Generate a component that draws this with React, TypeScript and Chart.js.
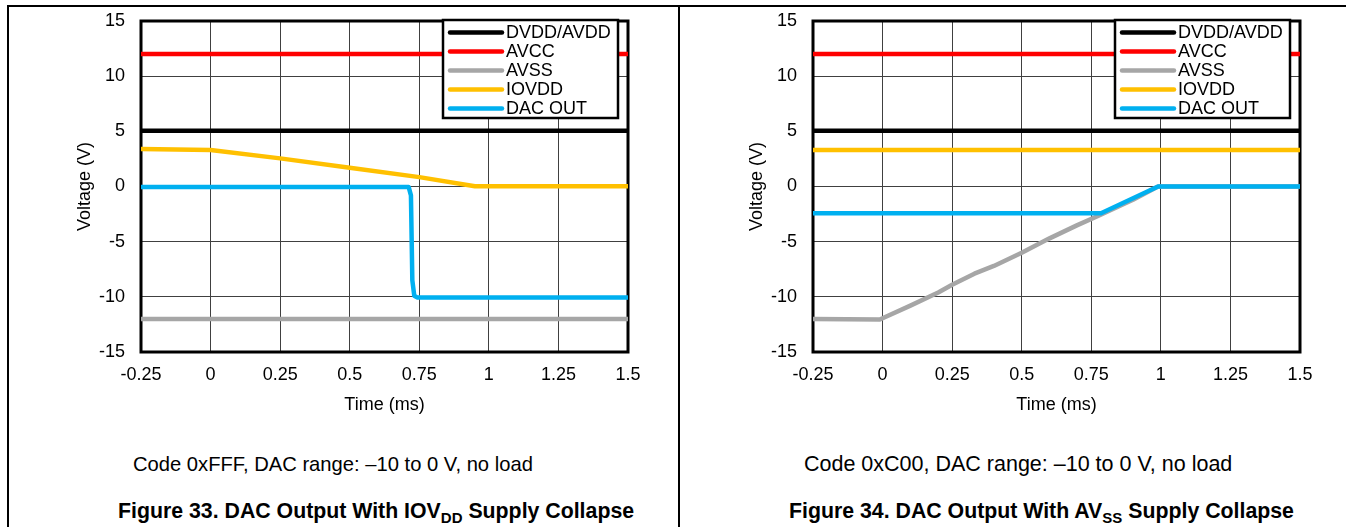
import React, { useEffect, useRef } from "react";
import { Chart, registerables } from "chart.js";

Chart.register(...registerables);

// ---- axes ----
const X_MIN = -0.25;
const X_MAX = 1.5;
const X_STEP = 0.25;
const Y_MIN = -15;
const Y_MAX = 15;
const Y_STEP = 5;
const X_TITLE = "Time (ms)";
const Y_TITLE = "Voltage (V)";

// ---- series ----
const SERIES_NAMES = ["DVDD/AVDD", "AVCC", "AVSS", "IOVDD", "DAC OUT"];
const SERIES_COLORS = ["#000000", "#FF0000", "#A6A6A6", "#FFC000", "#00B0F0"];

// Figure 33 (IOVDD collapse)
const F33_DVDD_T = [-0.25, 1.5];
const F33_DVDD_V = [5.05, 5.05];
const F33_AVCC_T = [-0.25, 1.5];
const F33_AVCC_V = [12, 12];
const F33_AVSS_T = [-0.25, 1.5];
const F33_AVSS_V = [-12, -12];
const F33_IOVDD_T = [-0.25, 0, 0.25, 0.5, 0.75, 0.95, 1.5];
const F33_IOVDD_V = [3.4, 3.3, 2.55, 1.7, 0.85, 0.02, 0.02];
const F33_DAC_T = [-0.25, 0.712, 0.72, 0.725, 0.732, 0.742, 1.5];
const F33_DAC_V = [-0.05, -0.05, -0.8, -8.5, -9.9, -10.05, -10.05];

// Figure 34 (AVSS collapse)
const F34_DVDD_T = [-0.25, 1.5];
const F34_DVDD_V = [5.05, 5.05];
const F34_AVCC_T = [-0.25, 1.5];
const F34_AVCC_V = [12, 12];
const F34_AVSS_T = [-0.25, -0.01, 0.1, 0.2, 0.25, 0.33, 0.4, 0.5, 0.6, 0.7, 0.78, 0.9, 0.99, 1.5];
const F34_AVSS_V = [-12, -12.05, -10.8, -9.6, -8.9, -7.9, -7.2, -6.0, -4.7, -3.5, -2.6, -1.2, 0, 0];
const F34_IOVDD_T = [-0.25, 1.5];
const F34_IOVDD_V = [3.3, 3.3];
const F34_DAC_T = [-0.25, 0.785, 0.99, 1.5];
const F34_DAC_V = [-2.42, -2.42, 0, 0];

const F33_T = [F33_DVDD_T, F33_AVCC_T, F33_AVSS_T, F33_IOVDD_T, F33_DAC_T];
const F33_V = [F33_DVDD_V, F33_AVCC_V, F33_AVSS_V, F33_IOVDD_V, F33_DAC_V];
const F34_T = [F34_DVDD_T, F34_AVCC_T, F34_AVSS_T, F34_IOVDD_T, F34_DAC_T];
const F34_V = [F34_DVDD_V, F34_AVCC_V, F34_AVSS_V, F34_IOVDD_V, F34_DAC_V];

const FONT = "Arial, 'Liberation Sans', sans-serif";
const CANVAS_W = 640;
const CANVAS_H = 430;

const framePlugin = {
  id: "frameAndLegend",
  beforeDatasetsDraw(chart: any) {
    const { ctx, chartArea: a } = chart;
    ctx.save();
    ctx.strokeStyle = "#000";
    ctx.lineWidth = 3;
    ctx.strokeRect(a.left, a.top, a.right - a.left, a.bottom - a.top);
    ctx.restore();
  },
  afterDatasetsDraw(chart: any) {
    const { ctx, chartArea: a } = chart;
    const bx = a.left + 302;
    const by = a.top - 1;
    const bw = 175;
    const bh = 98;
    ctx.save();
    ctx.fillStyle = "#fff";
    ctx.fillRect(bx, by, bw, bh);
    ctx.strokeStyle = "#000";
    ctx.lineWidth = 2.5;
    ctx.strokeRect(bx, by, bw, bh);
    ctx.font = `18px ${FONT}`;
    ctx.textBaseline = "middle";
    ctx.textAlign = "left";
    SERIES_NAMES.forEach((name, i) => {
      const y = by + 12.5 + i * 19;
      ctx.strokeStyle = SERIES_COLORS[i];
      ctx.lineWidth = 4.5;
      ctx.lineCap = "round";
      ctx.beginPath();
      ctx.moveTo(bx + 7, y);
      ctx.lineTo(bx + 59, y);
      ctx.stroke();
      ctx.fillStyle = "#000";
      ctx.fillText(name, bx + 63, y + 1);
    });
    ctx.restore();
  },
};

function VoltageChart({ times, values, left }: { times: number[][]; values: number[][]; left: number }) {
  const ref = useRef<HTMLCanvasElement | null>(null);
  useEffect(() => {
    if (!ref.current) return;
    const datasets = SERIES_NAMES.map((name, i) => ({
      label: name,
      data: times[i].map((t, k) => ({ x: t, y: values[i][k] })),
      borderColor: SERIES_COLORS[i],
      backgroundColor: SERIES_COLORS[i],
      borderWidth: 4.5,
      pointRadius: 0,
      tension: 0,
      borderJoinStyle: "round" as const,
      order: SERIES_NAMES.length - 1 - i,
    }));
    const chart = new Chart(ref.current, {
      type: "line",
      data: { datasets },
      plugins: [framePlugin],
      options: {
        animation: false,
        responsive: false,
        maintainAspectRatio: false,
        devicePixelRatio: 1,
        layout: { padding: { left: 0, right: 32, top: 21, bottom: 0 } },
        plugins: { legend: { display: false }, tooltip: { enabled: false } },
        scales: {
          x: {
            type: "linear",
            min: X_MIN,
            max: X_MAX,
            afterFit: (s: any) => {
              s.height = CANVAS_H - 352;
              s.paddingLeft = 0;
              s.paddingRight = 0;
            },
            ticks: {
              stepSize: X_STEP,
              padding: 12,
              color: "#000",
              font: { family: FONT, size: 18 },
              maxRotation: 0,
              callback: (v: any) => String(Math.round(Number(v) * 100) / 100),
            },
            grid: { color: "#404040", lineWidth: 1, drawTicks: false },
            border: { display: false },
            title: {
              display: true,
              text: X_TITLE,
              color: "#000",
              font: { family: FONT, size: 18 },
              padding: { top: 0, bottom: 14 },
            },
          },
          y: {
            type: "linear",
            min: Y_MIN,
            max: Y_MAX,
            afterFit: (s: any) => {
              s.width = 121;
              s.paddingTop = 0;
              s.paddingBottom = 0;
            },
            ticks: {
              stepSize: Y_STEP,
              padding: 16,
              color: "#000",
              font: { family: FONT, size: 18 },
            },
            grid: { color: "#404040", lineWidth: 1, drawTicks: false },
            border: { display: false },
            title: {
              display: true,
              text: Y_TITLE,
              color: "#000",
              font: { family: FONT, size: 18 },
              padding: { top: 54, bottom: 0 },
            },
          },
        },
      },
    });
    return () => chart.destroy();
  }, [times, values]);
  return (
    <canvas
      ref={ref}
      width={CANVAS_W}
      height={CANVAS_H}
      style={{ position: "absolute", left, top: 0, width: CANVAS_W, height: CANVAS_H }}
    />
  );
}

function Caption({ left, top, size, text }: { left: number; top: number; size: number; text: string }) {
  return (
    <div
      style={{
        position: "absolute",
        left,
        top,
        fontFamily: FONT,
        fontSize: size,
        lineHeight: "24px",
        whiteSpace: "nowrap",
        color: "#000",
      }}
    >
      {text}
    </div>
  );
}

function FigTitle({ left, top, pre, sub, post }: { left: number; top: number; pre: string; sub: string; post: string }) {
  return (
    <div
      style={{
        position: "absolute",
        left,
        top,
        fontFamily: FONT,
        fontWeight: "bold",
        fontSize: 21.3,
        lineHeight: "24px",
        whiteSpace: "nowrap",
        color: "#000",
      }}
    >
      {pre}
      <span style={{ fontSize: 15, position: "relative", top: 5 }}>{sub}</span>
      {post}
    </div>
  );
}

export default function App() {
  return (
    <div style={{ position: "absolute", left: 0, top: 0, width: 1351, height: 527, background: "#fff", overflow: "hidden" }}>
      <div style={{ position: "absolute", left: 8, top: 5, width: 1338, height: 2, background: "#000" }} />
      <div style={{ position: "absolute", left: 7, top: 5, width: 2, height: 522, background: "#000" }} />
      <div style={{ position: "absolute", left: 678, top: 5, width: 2, height: 522, background: "#000" }} />
      <VoltageChart times={F33_T} values={F33_V} left={20} />
      <VoltageChart times={F34_T} values={F34_V} left={692} />
      <Caption left={133} top={452} size={20.2} text="Code 0xFFF, DAC range: –10 to 0 V, no load" />
      <Caption left={804} top={452} size={21.5} text="Code 0xC00, DAC range: –10 to 0 V, no load" />
      <FigTitle left={118} top={499} pre="Figure 33. DAC Output With IOV" sub="DD" post=" Supply Collapse" />
      <FigTitle left={789} top={499} pre="Figure 34. DAC Output With AV" sub="SS" post=" Supply Collapse" />
    </div>
  );
}
